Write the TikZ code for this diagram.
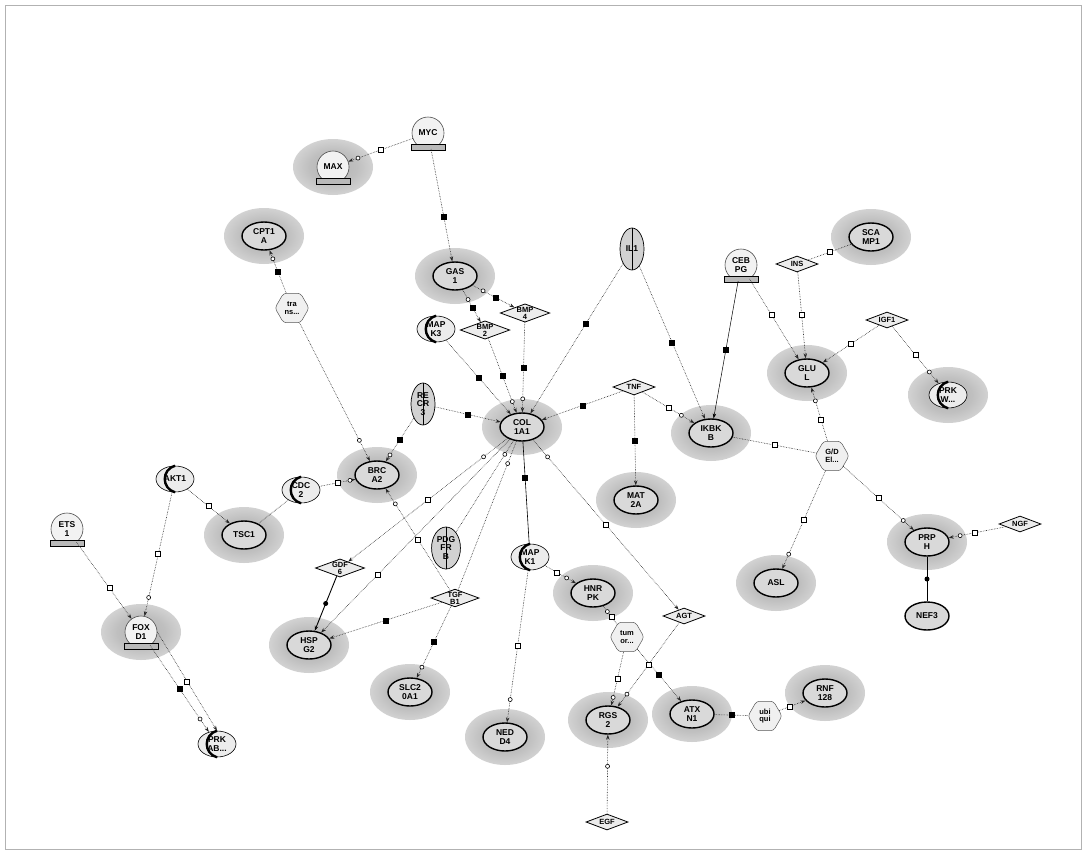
\documentclass[tikz,border=0pt]{standalone}
\usepackage{fontspec}
\setsansfont{Liberation Sans}
\usetikzlibrary{shapes.geometric,arrows.meta,backgrounds,calc}
\pgfdeclareradialshading{halo}{\pgfpoint{0bp}{0bp}}{color(0bp)=(gray!60); color(15bp)=(gray!50); color(30bp)=(gray!28); color(42bp)=(gray!8); color(50bp)=(white)}
\begin{document}
\begin{tikzpicture}[x=1pt,y=-1pt,
  lbl/.style={font=\sffamily\bfseries\fontsize{8.5}{8.5}\selectfont, align=center, inner sep=1pt},
  prot/.style={lbl, ellipse, draw=black, line width=1.4pt, fill=gray!30, minimum width=44, minimum height=28},
  tfac/.style={lbl, circle, draw=gray!60!black, line width=0.6pt, fill=gray!10, minimum size=32},
  lig/.style={lbl, diamond, aspect=2.7, draw=black, line width=0.8pt, fill=gray!15, inner sep=0pt, minimum width=42, minimum height=16, font=\sffamily\bfseries\fontsize{7.5}{7}\selectfont},
  kin/.style={lbl, ellipse, draw=black, line width=0.6pt, fill=gray!15, minimum width=38, minimum height=26},
  rec/.style={lbl, ellipse, draw=black, line width=0.7pt, fill=gray!35, minimum width=24, minimum height=42},
  proc/.style={lbl, regular polygon, regular polygon sides=6, rounded corners=3pt, draw=gray!70!black, line width=0.5pt, fill=gray!12, minimum size=34, inner sep=0pt, font=\sffamily\bfseries\fontsize{7.5}{7.5}\selectfont},
  rel/.style={densely dotted, draw=gray!30!black, line width=0.6pt},
  srel/.style={draw=black, line width=0.9pt},
  arr/.style={-{Stealth[length=5pt,width=3.5pt]}},
  osq/.style={draw=black, solid, fill=white, line width=0.7pt, rectangle, minimum size=5pt, inner sep=0pt},
  fsq/.style={draw=black, solid, fill=black, rectangle, minimum size=5pt, inner sep=0pt},
  oc/.style={draw=black, solid, fill=white, circle, line width=0.6pt, minimum size=4pt, inner sep=0pt},
  fdot/.style={fill=black, circle, minimum size=5pt, inner sep=0pt},
]
\useasboundingbox (0,0) rectangle (1086,854);
\draw[gray!60, line width=0.8pt] (5,5) rectangle (1081,849);

% nodes
\node[tfac] (MYC) at (428,133) {MYC};
\node[tfac] (MAX) at (333,167) {MAX};
\node[prot] (CPT) at (264,236) {CPT1\\A};
\node[prot] (GAS) at (455,276) {GAS\\1};
\node[rec]  (IL1) at (632,249) {IL1};
\node[tfac] (CEB) at (741,265) {CEB\\PG};
\node[lig]  (INS) at (797,264) {INS};
\node[prot] (SCA) at (871,237) {SCA\\MP1};
\node[lig]  (BMP4) at (525,313) {BMP\\4};
\node[lig]  (BMP2) at (485,330) {BMP\\2};
\node[kin]  (MAPK3) at (436,329) {MAP\\K3};
\node[lig]  (IGF1) at (887,320) {IGF1};
\node[prot] (GLUL) at (807,373) {GLU\\L};
\node[kin]  (PRKW) at (948,395) {PRK\\W...};
\node[proc] (TRANS) at (292,308) {tra\\ns...};
\node[rec]  (REC) at (423,404) {RE\\CR\\3};
\node[prot] (COL) at (522,427) {COL\\1A1};
\node[lig]  (TNF) at (634,387) {TNF};
\node[prot] (IKBKB) at (711,433) {IKBK\\B};
\node[proc] (GD) at (832,456) {G/D\\El...};
\node[prot] (BRCA2) at (377,475) {BRC\\A2};
\node[kin]  (CDC2) at (301,490) {CDC\\2};
\node[kin]  (AKT1) at (175,479) {AKT1};
\node[prot] (MAT) at (636,500) {MAT\\2A};
\node[tfac] (ETS1) at (67,529) {ETS\\1};
\node[prot] (TSC1) at (244,535) {TSC1};
\node[lig]  (GDF6) at (340,568) {GDF\\6};
\node[rec]  (PDGF) at (446,548) {PDG\\FR\\B};
\node[kin]  (MAPK1) at (530,557) {MAP\\K1};
\node[prot] (HNRPK) at (593,593) {HNR\\PK};
\node[prot] (PRPH) at (927,542) {PRP\\H};
\node[lig]  (NGF) at (1020,524) {NGF};
\node[prot] (ASL) at (776,583) {ASL};
\node[lig]  (TGFB1) at (455,598) {TGF\\B1};
\node[lig]  (AGT) at (684,616) {AGT};
\node[tfac] (FOXD1) at (141,632) {FOX\\D1};
\node[proc] (TUM) at (627,637) {tum\\or...};
\node[prot] (HSPG2) at (309,645) {HSP\\G2};
\node[prot] (NEF3) at (927,616) {NEF3};
\node[prot] (SLC) at (410,692) {SLC2\\0A1};
\node[prot] (RGS2) at (608,720) {RGS\\2};
\node[prot] (ATXN1) at (692,714) {ATX\\N1};
\node[proc] (UBQ) at (765,716) {ubi\\qui};
\node[prot] (RNF) at (825,693) {RNF\\128};
\node[prot] (NEDD4) at (505,737) {NED\\D4};
\node[kin]  (PRKAB) at (217,744) {PRK\\AB...};
\node[lig]  (EGF) at (607,822) {EGF};

% glyph details
\foreach \n in {MYC,MAX,CEB,ETS1,FOXD1}
  \draw[fill=gray!55, line width=0.4pt] ($(\n.south)+(-17,-5)$) rectangle ($(\n.south)+(17,1)$);
\foreach \n in {MAPK3,CDC2,AKT1,MAPK1,PRKW,PRKAB}
  \draw[line width=2.4pt] (\n.north) .. controls (\n.north west) and (\n.south west) .. (\n.south);
\foreach \n in {IL1,REC,PDGF}
  \draw[line width=0.5pt] (\n.north) -- (\n.south);

% halos
\begin{scope}[on background layer]
\foreach \n in {MAX,CPT,GAS,SCA,GLUL,PRKW,COL,IKBKB,BRCA2,MAT,TSC1,HNRPK,PRPH,ASL,FOXD1,HSPG2,SLC,RGS2,ATXN1,RNF,NEDD4}
  \shade[shading=halo] (\n.center) ellipse (40 and 28);
\end{scope}

% relations
\draw[rel,arr] (MYC) -- node[osq]{} node[pos=.85,oc]{} (MAX);
\draw[rel,arr] (MYC) -- node[pos=.6,fsq]{} (GAS);
\draw[rel,arr] (GAS) -- node[pos=.55,fsq]{} node[pos=.25,oc]{} (BMP4);
\draw[rel,arr] (GAS) -- node[pos=.55,fsq]{} node[pos=.3,oc]{} (BMP2);
\draw[rel,arr] (BMP4) -- node[pos=.5,fsq]{} node[pos=.85,oc]{} (COL);
\draw[rel,arr] (BMP2) -- node[pos=.5,fsq]{} node[pos=.85,oc]{} (COL);
\draw[rel,arr] (MAPK3) -- node[pos=.5,fsq]{} (COL);
\draw[rel,arr] (IL1) -- node[pos=.4,fsq]{} (COL);
\draw[rel,arr] (IL1) -- node[pos=.5,fsq]{} (IKBKB);
\draw[srel,line width=0.5pt,arr] (CEB) -- node[pos=.5,fsq]{} (IKBKB);
\draw[rel,arr] (CEB) -- node[pos=.45,osq]{} (GLUL);
\draw[rel,arr] (INS) -- node[pos=.5,osq]{} (GLUL);
\draw[rel] (INS) -- node[pos=.5,osq]{} (SCA);
\draw[rel,arr] (IGF1) -- node[pos=.5,osq]{} (GLUL);
\draw[rel,arr] (IGF1) -- node[pos=.5,osq]{} node[pos=.8,oc]{} (PRKW);
\draw[rel,arr] (TNF) -- node[pos=.5,fsq]{} (COL);
\draw[rel,arr] (TNF) -- node[pos=.5,osq]{} node[pos=.75,oc]{} (IKBKB);
\draw[rel,arr] (TNF) -- node[pos=.5,fsq]{} (MAT);
\draw[rel] (IKBKB) -- node[pos=.5,osq]{} (GD);
\draw[rel,arr] (GD) -- node[pos=.4,osq]{} node[pos=.75,oc]{} (GLUL);
\draw[rel,arr] (GD) -- node[pos=.5,osq]{} node[pos=.85,oc]{} (ASL);
\draw[rel,arr] (GD) -- node[pos=.5,osq]{} node[pos=.85,oc]{} (PRPH);
\draw[rel,arr] (NGF) -- node[pos=.55,osq]{} node[pos=.8,oc]{} (PRPH);
\draw[srel] (PRPH) -- node[pos=.5,fdot]{} (NEF3);
\draw[rel,arr] (REC) -- node[pos=.5,fsq]{} (COL);
\draw[rel,arr] (REC) -- node[pos=.5,fsq]{} node[pos=.85,oc]{} (BRCA2);
\draw[rel,arr] (TRANS) -- node[pos=.5,fsq]{} node[pos=.8,oc]{} (CPT);
\draw[rel,arr] (TRANS) -- node[pos=.85,oc]{} (BRCA2);
\draw[rel,arr] (CDC2) -- node[pos=.5,osq]{} node[pos=.85,oc]{} (BRCA2);
\draw[rel] (CDC2) -- (TSC1);
\draw[rel,arr] (AKT1) -- node[pos=.5,osq]{} (TSC1);
\draw[rel,arr] (AKT1) -- node[pos=.5,osq]{} node[pos=.85,oc]{} (FOXD1);
\draw[rel,arr] (ETS1) -- node[pos=.6,osq]{} (FOXD1);
\draw[rel,arr] (FOXD1) -- node[pos=.5,fsq]{} node[pos=.85,oc]{} (PRKAB);
\draw[rel,arr] (FOXD1.east) -- node[pos=.5,osq]{} (PRKAB.north);
\draw[rel,arr] (COL) -- node[pos=.5,osq]{} node[pos=.15,oc]{} (GDF6);
\draw[srel,arr] (GDF6) -- node[pos=.5,fdot]{} (HSPG2);
\draw[rel,arr] (TGFB1) -- node[pos=.5,fsq]{} (HSPG2);
\draw[rel,arr] (COL) -- node[pos=.7,osq]{} (HSPG2);
\draw[rel,arr] (TGFB1) -- node[pos=.5,osq]{} node[pos=.85,oc]{} (BRCA2);
\draw[rel,arr] (TGFB1) -- node[pos=.5,fsq]{} node[pos=.85,oc]{} (SLC);
\draw[rel] (COL) -- node[pos=.15,oc]{} (PDGF);
\draw[rel] (COL) -- node[pos=.15,oc]{} (TGFB1);
\draw[srel,line width=0.6pt] (COL) -- node[pos=.35,fsq]{} (MAPK1);
\draw[rel,arr] (MAPK1) -- node[pos=.5,osq]{} node[pos=.85,oc]{} (NEDD4);
\draw[rel,arr] (MAPK1) -- node[pos=.4,osq]{} node[pos=.7,oc]{} (HNRPK);
\draw[rel] (HNRPK) -- node[pos=.6,osq]{} node[pos=.3,oc]{} (TUM);
\draw[rel,arr] (TUM) -- node[pos=.5,osq]{} node[pos=.85,oc]{} (RGS2);
\draw[rel,arr] (TUM) -- node[pos=.5,fsq]{} (ATXN1);
\draw[rel,arr] (AGT) -- node[pos=.5,osq]{} node[pos=.85,oc]{} (RGS2);
\draw[rel,arr] (COL) -- node[pos=.5,osq]{} node[pos=.1,oc]{} (AGT);
\draw[rel] (ATXN1) -- node[pos=.5,fsq]{} (UBQ);
\draw[rel,arr] (UBQ) -- node[pos=.4,osq]{} (RNF);
\draw[rel,arr] (EGF) -- node[pos=.6,oc]{} (RGS2);
\end{tikzpicture}
\end{document}
